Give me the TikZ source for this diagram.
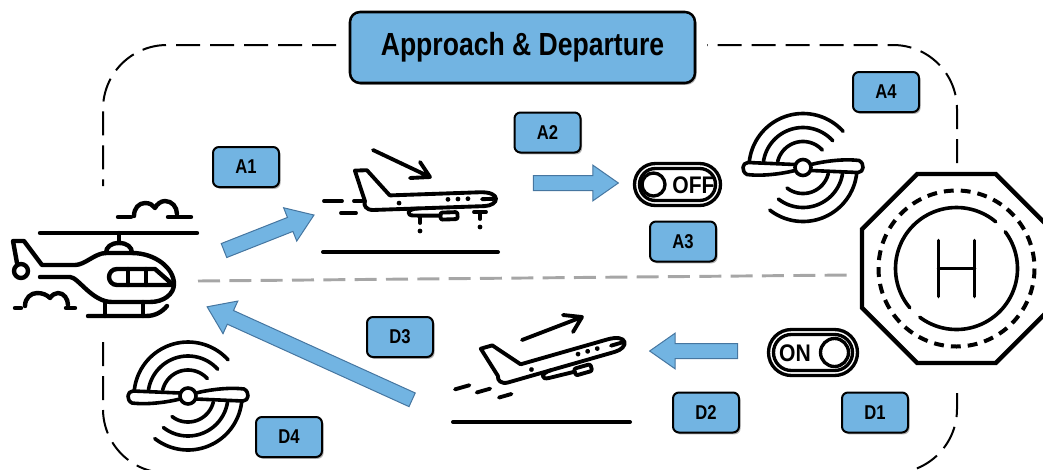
\documentclass[tikz,border=0pt]{standalone}
\usepackage{fontspec}
\usetikzlibrary{shapes.arrows,shadows,calc}
\newfontfamily\labelfont{Liberation Sans}[FakeStretch=0.83]
\newfontfamily\switchfont{Liberation Sans}[FakeStretch=0.88]
\definecolor{boxblue}{RGB}{114,180,226}
\definecolor{arrowedge}{RGB}{70,118,160}
\definecolor{divider}{RGB}{166,166,166}
\tikzset{
  pixelgrid/.style={x=0.75pt,y=-0.75pt},
  frame/.style={draw=black,line width=1.5pt,dash pattern=on 18pt off 7.5pt,rounded corners=48pt},
  splitline/.style={draw=divider,line width=2.2pt,dash pattern=on 16.5pt off 7pt},
  tag/.style={draw=black,line width=1.5pt,fill=boxblue,rounded corners=4.5pt,
    minimum width=49.5pt,minimum height=30pt,inner sep=0pt,
    font=\labelfont\bfseries\fontsize{15pt}{15pt}\selectfont,
    drop shadow={shadow xshift=1.2pt,shadow yshift=-1.4pt,opacity=0.3,fill=black}},
  headline/.style={tag,minimum width=258.75pt,minimum height=53.25pt,rounded corners=7.5pt,
    line width=1.9pt,font=\labelfont\bfseries\fontsize{24pt}{24pt}\selectfont},
  flow/.style={single arrow,draw=arrowedge,fill=boxblue,line width=0.75pt,
    inner sep=0pt,text height=10.5pt,text depth=0pt,
    single arrow head extend=7.8pt,single arrow tip angle=70,single arrow head indent=0pt},
  heli/.style={draw=black,line width=3.3pt,line cap=round,line join=round},
  jet/.style={draw=black,line width=2.9pt,line cap=round,line join=round},
  rotor/.style={draw=black,line width=2.7pt,line cap=round,line join=round},
  switch/.style={draw=black,line width=2.5pt},
  pad/.style={draw=black,line width=2.7pt,line cap=round},
  switchtext/.style={inner sep=0pt,font=\switchfont\bfseries\fontsize{18pt}{18pt}\selectfont},
  airliner/.pic={
    % tail fin
    \draw[jet] (-40,-7) -- (-62,-33) -- (-74,-33) -- (-65,-2);
    % fuselage
    \draw[jet] (-40,-7) -- (50,-7) .. controls (60,-7) and (66,-4) .. (66,0)
       .. controls (66,4) and (61,7) .. (54,7) -- (-57,7)
       .. controls (-64,7) and (-67,2) .. (-65,-2);
    % windscreen
    \draw[jet] (52,0) -- (65,0);
    % windows
    \fill (-31,1) circle[radius=2.4] (18,-1) circle[radius=2.4]
          (28,-1) circle[radius=2.4] (38,-1) circle[radius=2.4];
    % wing and engine
    \draw[jet] (-12,7) .. controls (-24,7) and (-25,14) .. (-16,14) -- (10,15);
    \draw[jet,rounded corners=1.5pt] (10,12) rectangle (27,19);
  },
  prop/.pic={
    \draw[rotor] (0,0) circle[radius=8];
    \draw[rotor] (-8,-3) -- (-55,-5) .. controls (-61,-5) and (-62,4) .. (-56,7)
        .. controls (-40,9) and (-20,6) .. (-8,3);
    \draw[rotor] (8,3) -- (55,5) .. controls (61,5) and (62,-4) .. (56,-7)
        .. controls (40,-9) and (20,-6) .. (8,-3);
    \foreach \r/\a in {26/13.3,40/8.6,54/6.4}{
      \draw[rotor] plot[domain=180+\a:318,samples=40] ({\r*cos(\x)},{\r*sin(\x)});
      \draw[rotor] plot[domain=\a:128,samples=40] ({\r*cos(\x)},{\r*sin(\x)});
    }
  }
}
% block arrow from one named point to another
\newcommand\blockarrow[3]{%
  \path let \p1=($(#3)-(#2)$), \n1={atan2(\y1,\x1)}, \n2={veclen(\x1,\y1)} in
    node[flow,rotate=\n1,minimum height=\n2] (#1) at ($(#2)!0.5!(#3)$) {};}
\begin{document}
\begin{tikzpicture}[pixelgrid]
\useasboundingbox (0,0) rectangle (1043,469);

% dashed frame, broken by the title, the helicopter and the helipad
\draw[frame] (336,45) -- (103,45) -- (103,186);
\draw[frame] (103,342) -- (103,473) -- (957,473) -- (957,386);
\draw[frame] (957,163) -- (957,45) -- (707,45);

% divider between approach and departure
\draw[splitline] (198,281) -- (850,275);

\node[headline] (title) at (522.5,47.5) {Approach \& Departure};

% helicopter
\draw[heli] (40,233) -- (197,233);
\draw[heli] (119,233) -- (119,243);
\draw[heli] (106,253) .. controls (106,247) and (111,243) .. (119,243)
   .. controls (127,243) and (132,247) .. (132,253);
\draw[heli] (40,277) -- (70,277) .. controls (78,277) and (92,302) .. (112,302) -- (150,302)
   .. controls (164,302) and (174,294) .. (174,284) .. controls (174,268) and (155,253) .. (132,253)
   -- (106,253) .. controls (95,253) and (85,265) .. (75,265) -- (42,265) -- (24,241) -- (13,241) -- (17,263);
\draw[heli] (21,271) circle[radius=7];
\draw[heli] (172,285) -- (117,285) .. controls (112,285) and (109,281) .. (109,277)
   .. controls (109,273) and (112,269) .. (117,269) -- (155,269) -- (171,283);
\draw[heli] (128,269) -- (128,285) (146,269) -- (146,285);
\draw[heli] (105,302) -- (105,316) (143,302) -- (143,316);
\draw[heli] (88,316) -- (146,316) .. controls (155,316) and (162,312) .. (167,306);
% clouds
\draw[heli] (118,217) -- (131,217);
\draw[heli] (134,216) .. controls (134,208) and (139,203) .. (145,203) .. controls (150,203) and (153,205) .. (155,208)
   .. controls (157,204) and (161,201) .. (165,201) .. controls (172,201) and (177,207) .. (177,214);
\draw[heli] (168,217) -- (191,217);
\draw[heli] (15,308) -- (21,308);
\draw[heli] (25,306) .. controls (25,298) and (31,293) .. (37,293) .. controls (43,293) and (47,295) .. (50,298)
   .. controls (52,295) and (55,293) .. (58,293) .. controls (64,293) and (68,299) .. (68,305);
\draw[heli] (66,308) -- (75,308);

% landing airliner
\pic[rotate=2] (landing) at (430,201) {airliner};
\draw[jet] (324,201) -- (342,201) (354,201) -- (362,201) (341,213) -- (356,213);
\draw[jet] (420,217) -- (420,223) (474,212) -- (486,212) (480,212) -- (480,219);
\fill (420,231) circle[radius=2.4] (480,227) circle[radius=2.4];
\draw[jet] (373,150) -- (430,177) (420,162) -- (430,177) -- (410,178);
\draw[jet,line width=3pt] (323,252) -- (498,252);

% departing airliner
\pic[rotate=16] (departing) at (561,360) {airliner};
\begin{scope}[shift={(561,360)},rotate=16]
  \draw[jet] (-110,-1) -- (-95,-1) (-90,8) -- (-76,8) (-70,19) -- (-57,19);
\end{scope}
\draw[jet] (522,340) -- (582,317) (563,315) -- (582,317) -- (573,332);
\draw[jet,line width=3pt] (453,422) -- (630,422);

% propellers
\pic (propA) at (803,167.5) {prop};
\pic (propD) at (188,396) {prop};

% OFF switch
\draw[switch,rounded corners=15.7pt] (634.5,163.5) rectangle (720.5,205.5);
\draw[switch,rounded corners=11.9pt] (639.5,168.5) rectangle (715.5,200.5);
\draw[switch] (653.5,184.5) circle[radius=11.5];
\node[switchtext] (off) at (693.5,185) {OFF};

% ON switch
\draw[switch,rounded corners=17.2pt] (768.5,329.5) rectangle (857.5,375.5);
\draw[switch,rounded corners=13.4pt] (773.5,334.5) rectangle (852.5,370.5);
\draw[switch] (834.5,352.5) circle[radius=14];
\node[switchtext] (on) at (795,353) {ON};

% helipad
\begin{scope}[shift={(956.5,268.5)}]
  \draw[draw=black,line width=3.3pt,line join=miter] (94.5,-39.2) -- (39.2,-94.5) -- (-39.2,-94.5) -- (-94.5,-39.2)
     -- (-94.5,39.2) -- (-39.2,94.5) -- (39.2,94.5) -- (94.5,39.2) -- cycle;
  \draw[line width=3pt,dash pattern=on 7.4pt off 5.276pt] (0,0) circle[radius=78];
  \draw[pad] plot[domain=-37:127,samples=60] ({61*cos(\x)},{61*sin(\x)});
  \draw[pad] plot[domain=140:310,samples=60] ({61*cos(\x)},{61*sin(\x)});
  \draw[pad] (-18,-28) -- (-18,28) (18,-28) -- (18,28) (-18,0) -- (18,0);
\end{scope}

% flow arrows
\coordinate (a1from) at (219,252.5);
\coordinate (a1to) at (309,217);
\coordinate (a2from) at (528,183);
\coordinate (a2to) at (613,183);
\coordinate (d2from) at (743,351);
\coordinate (d2to) at (655,351);
\coordinate (d3from) at (417,402);
\coordinate (d3to) at (212,309);
\blockarrow{toLanding}{a1from}{a1to}
\blockarrow{toShutdown}{a2from}{a2to}
\blockarrow{toTakeoff}{d2from}{d2to}
\blockarrow{toDeparture}{d3from}{d3to}

% step labels
\node[tag] (a1) at (246,167) {A1};
\node[tag] (a2) at (547.5,132.5) {A2};
\node[tag] (a3) at (683,241.5) {A3};
\node[tag] (a4) at (886,92) {A4};
\node[tag] (d1) at (875,412.5) {D1};
\node[tag] (d2) at (706,412.5) {D2};
\node[tag] (d3) at (400,337) {D3};
\node[tag] (d4) at (289,437) {D4};
\end{tikzpicture}
\end{document}
